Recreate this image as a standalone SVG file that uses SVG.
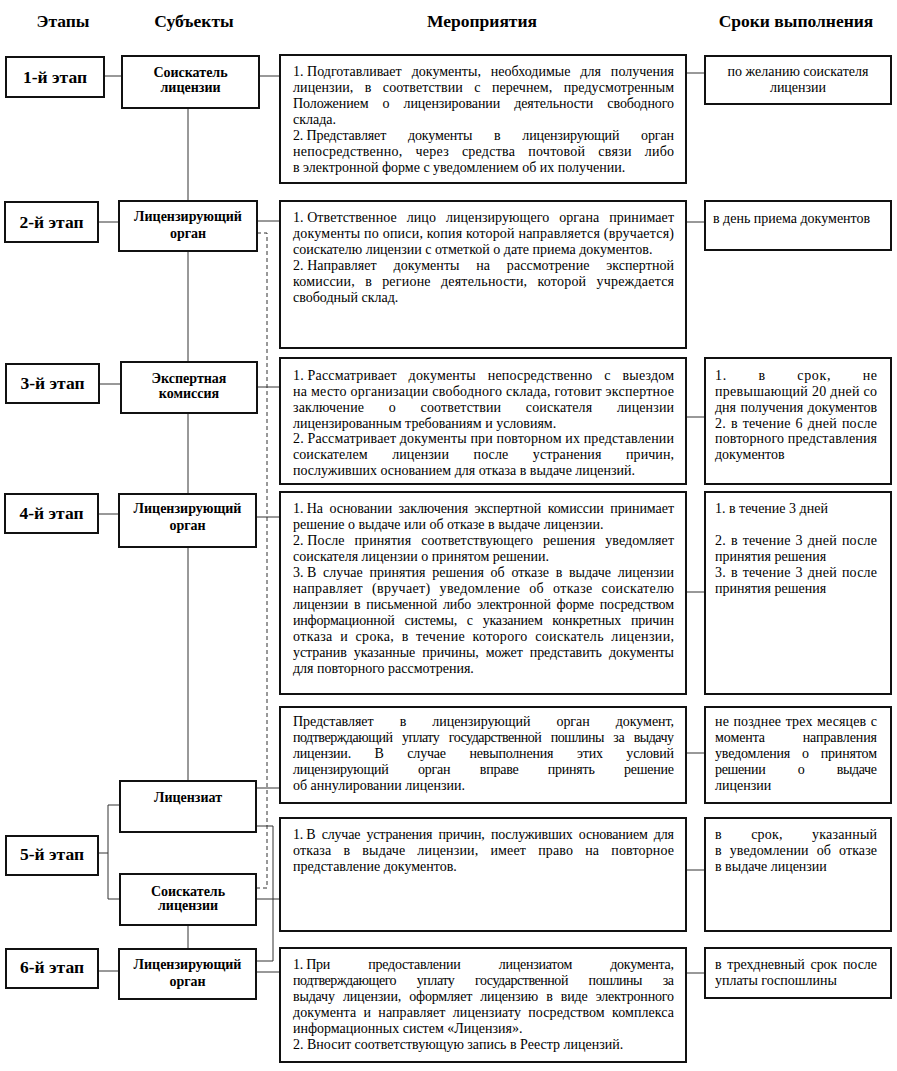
<svg xmlns="http://www.w3.org/2000/svg" width="897" height="1071" viewBox="0 0 897 1071">
<style>
.bg{fill:#fff}
.t{font-family:"Liberation Serif","Times New Roman",serif;font-size:14px;fill:#000}
.b{font-weight:bold;text-anchor:middle}
.h{font-family:"Liberation Serif","Times New Roman",serif;font-size:17.5px;font-weight:bold;fill:#000;text-anchor:middle}
.m{text-anchor:middle}
.n{word-spacing:0}
.box{fill:#fff;stroke:#111;stroke-width:2}
.c{fill:none;stroke:#333;stroke-width:1}
.d{stroke-dasharray:4 3}
</style>
<rect class="bg" x="0" y="0" width="897" height="1071"/>
<g id="headers">
<text class="h" x="63" y="27">Этапы</text>
<text class="h" x="194" y="27">Субъекты</text>
<text class="h" x="482" y="27">Мероприятия</text>
<text class="h" x="796" y="27">Сроки выполнения</text>
</g>
<g id="connectors">
<path class="c" d="M104,76H122M98,222H119M99,384H121M98,514H119M98,971H119"/>
<path class="c" d="M98,853H108M108,805V899M108,805H120M108,899H120"/>
<path class="c" d="M259,76H280M257,221H280M257,387H280M256,517H280M256,788H280M256,899H280M256,972H280"/>
<path class="c" d="M256,826H273V961H256"/>
<path class="c" d="M686,73H705M686,222H705M686,417H705M686,592H705M686,753H705M686,870H705M686,973H705"/>
<path class="c" d="M188,108V201M188,251V362M188,413V494M188,547V781M188,925V949"/>
<path class="c d" d="M257,233H267V888H256"/>
</g>
<g id="stage1"><rect class="box" x="6" y="57" width="98" height="40"/><text class="h" x="55" y="83">1-й этап</text></g>
<g id="stage2"><rect class="box" x="5" y="202" width="93" height="40"/><text class="h" x="51.5" y="228">2-й этап</text></g>
<g id="stage3"><rect class="box" x="6" y="364" width="93" height="39"/><text class="h" x="52.5" y="389">3-й этап</text></g>
<g id="stage4"><rect class="box" x="5" y="494" width="93" height="39"/><text class="h" x="51.5" y="519">4-й этап</text></g>
<g id="stage5"><rect class="box" x="6" y="836" width="92" height="39"/><text class="h" x="52" y="860">5-й этап</text></g>
<g id="stage6"><rect class="box" x="6" y="949" width="92" height="39"/><text class="h" x="52" y="973">6-й этап</text></g>

<g id="subj1"><rect class="box" x="122" y="56" width="137" height="52"/><text class="t b" x="190.5" y="77">Соискатель</text><text class="t b" x="190.5" y="92">лицензии</text></g>
<g id="subj2"><rect class="box" x="119" y="201" width="138" height="50"/><text class="t b" x="188" y="221">Лицензирующий</text><text class="t b" x="188" y="238">орган</text></g>
<g id="subj3"><rect class="box" x="121" y="362" width="136" height="51"/><text class="t b" x="189" y="383">Экспертная</text><text class="t b" x="189" y="398">комиссия</text></g>
<g id="subj4"><rect class="box" x="119" y="494" width="137" height="53"/><text class="t b" x="187.5" y="513">Лицензирующий</text><text class="t b" x="187.5" y="530">орган</text></g>
<g id="subj5a"><rect class="box" x="120" y="781" width="136" height="51"/><text class="t b" x="188" y="802">Лицензиат</text></g>
<g id="subj5b"><rect class="box" x="120" y="874" width="136" height="51"/><text class="t b" x="188" y="896">Соискатель</text><text class="t b" x="188" y="910">лицензии</text></g>
<g id="subj6"><rect class="box" x="119" y="949" width="137" height="50"/><text class="t b" x="187.5" y="969">Лицензирующий</text><text class="t b" x="187.5" y="986">орган</text></g>

<g id="act1"><rect class="box" x="280" y="55" width="406" height="128"/>
<text class="t" x="293" y="76" textLength="381" lengthAdjust="spacing" word-spacing="6.4"><tspan class="n">1. </tspan>Подготавливает документы, необходимые для получения</text>
<text class="t" x="293" y="92" textLength="381" lengthAdjust="spacing" word-spacing="7.8">лицензии, в соответствии с перечнем, предусмотренным</text>
<text class="t" x="293" y="108" textLength="381" lengthAdjust="spacing" word-spacing="10.7">Положением о лицензировании деятельности свободного</text>
<text class="t" x="293" y="124">склада.</text>
<text class="t" x="293" y="140" textLength="381" lengthAdjust="spacing" word-spacing="18.4"><tspan class="n">2. </tspan>Представляет документы в лицензирующий орган</text>
<text class="t" x="293" y="156" textLength="381" lengthAdjust="spacing" word-spacing="9.2">непосредственно, через средства почтовой связи либо</text>
<text class="t" x="293" y="172">в электронной форме с уведомлением об их получении.</text>
</g>
<g id="act2"><rect class="box" x="280" y="201" width="406" height="147"/>
<text class="t" x="293" y="222" textLength="381" lengthAdjust="spacing" word-spacing="6.4"><tspan class="n">1. </tspan>Ответственное лицо лицензирующего органа принимает</text>
<text class="t" x="293" y="238" textLength="381" lengthAdjust="spacing">документы по описи, копия которой направляется (вручается)</text>
<text class="t" x="293" y="254">соискателю лицензии с отметкой о дате приема документов.</text>
<text class="t" x="293" y="270" textLength="381" lengthAdjust="spacing" word-spacing="13.2"><tspan class="n">2. </tspan>Направляет документы на рассмотрение экспертной</text>
<text class="t" x="293" y="286" textLength="381" lengthAdjust="spacing" word-spacing="6.5">комиссии, в регионе деятельности, которой учреждается</text>
<text class="t" x="293" y="302">свободный склад.</text>
</g>
<g id="act3"><rect class="box" x="280" y="358" width="406" height="126"/>
<text class="t" x="293" y="380" textLength="381" lengthAdjust="spacing" word-spacing="8.1"><tspan class="n">1. </tspan>Рассматривает документы непосредственно с выездом</text>
<text class="t" x="293" y="396" textLength="381" lengthAdjust="spacing">на место организации свободного склада, готовит экспертное</text>
<text class="t" x="293" y="412" textLength="381" lengthAdjust="spacing" word-spacing="21">заключение о соответствии соискателя лицензии</text>
<text class="t" x="293" y="428">лицензированным требованиям и условиям.</text>
<text class="t" x="293" y="443" textLength="381" lengthAdjust="spacing">2. Рассматривает документы при повторном их представлении</text>
<text class="t" x="293" y="459" textLength="381" lengthAdjust="spacing" word-spacing="21">соискателем лицензии после устранения причин,</text>
<text class="t" x="293" y="475">послуживших основанием для отказа в выдаче лицензий.</text>
</g>
<g id="act4"><rect class="box" x="280" y="492" width="406" height="202"/>
<text class="t" x="293" y="513" textLength="381" lengthAdjust="spacing" word-spacing="3"><tspan class="n">1. </tspan>На основании заключения экспертной комиссии принимает</text>
<text class="t" x="293" y="529">решение о выдаче или об отказе в выдаче лицензии.</text>
<text class="t" x="293" y="545" textLength="381" lengthAdjust="spacing" word-spacing="6.4"><tspan class="n">2. </tspan>После принятия соответствующего решения уведомляет</text>
<text class="t" x="293" y="561">соискателя лицензии о принятом решении.</text>
<text class="t" x="293" y="577" textLength="381" lengthAdjust="spacing" word-spacing="3.2"><tspan class="n">3. </tspan>В случае принятия решения об отказе в выдаче лицензии</text>
<text class="t" x="293" y="593" textLength="381" lengthAdjust="spacing" word-spacing="5.1">направляет (вручает) уведомление об отказе соискателю</text>
<text class="t" x="293" y="609" textLength="381" lengthAdjust="spacing" word-spacing="2.5">лицензии в письменной либо электронной форме посредством</text>
<text class="t" x="293" y="625" textLength="381" lengthAdjust="spacing" word-spacing="6.5">информационной системы, с указанием конкретных причин</text>
<text class="t" x="293" y="641" textLength="381" lengthAdjust="spacing" word-spacing="3.6">отказа и срока, в течение которого соискатель лицензии,</text>
<text class="t" x="293" y="657" textLength="381" lengthAdjust="spacing" word-spacing="3.7">устранив указанные причины, может представить документы</text>
<text class="t" x="293" y="673">для повторного рассмотрения.</text>
</g>
<g id="act5"><rect class="box" x="280" y="707" width="406" height="96"/>
<text class="t" x="293" y="726" textLength="381" lengthAdjust="spacing" word-spacing="22.7">Представляет в лицензирующий орган документ,</text>
<text class="t" x="293" y="742" textLength="381" lengthAdjust="spacing" word-spacing="6.5">подтверждающий уплату государственной пошлины за выдачу</text>
<text class="t" x="293" y="758" textLength="381" lengthAdjust="spacing" word-spacing="20.3">лицензии. В случае невыполнения этих условий</text>
<text class="t" x="293" y="774" textLength="381" lengthAdjust="spacing" word-spacing="26.2">лицензирующий орган вправе принять решение</text>
<text class="t" x="293" y="790">об аннулировании лицензии.</text>
</g>
<g id="act6"><rect class="box" x="280" y="818" width="406" height="113"/>
<text class="t" x="293" y="839" textLength="381" lengthAdjust="spacing" word-spacing="3"><tspan class="n">1. </tspan>В случае устранения причин, послуживших основанием для</text>
<text class="t" x="293" y="855" textLength="381" lengthAdjust="spacing" word-spacing="8.5">отказа в выдаче лицензии, имеет право на повторное</text>
<text class="t" x="293" y="871">представление документов.</text>
</g>
<g id="act7"><rect class="box" x="280" y="948" width="406" height="114"/>
<text class="t" x="293" y="969" textLength="381" lengthAdjust="spacing" word-spacing="35"><tspan class="n">1. </tspan>При предоставлении лицензиатом документа,</text>
<text class="t" x="293" y="985" textLength="381" lengthAdjust="spacing" word-spacing="17.6">подтверждающего уплату государственной пошлины за</text>
<text class="t" x="293" y="1001" textLength="381" lengthAdjust="spacing" word-spacing="4.8">выдачу лицензии, оформляет лицензию в виде электронного</text>
<text class="t" x="293" y="1017" textLength="381" lengthAdjust="spacing" word-spacing="3.7">документа и направляет лицензиату посредством комплекса</text>
<text class="t" x="293" y="1033">информационных систем «Лицензия».</text>
<text class="t" x="293" y="1049">2. Вносит соответствующую запись в Реестр лицензий.</text>
</g>

<g id="term1"><rect class="box" x="705" y="56" width="186" height="48"/>
<text class="t m" x="798" y="76">по желанию соискателя</text>
<text class="t m" x="798" y="92">лицензии</text>
</g>
<g id="term2"><rect class="box" x="705" y="201" width="186" height="49"/>
<text class="t" x="713" y="223">в день приема документов</text>
</g>
<g id="term3"><rect class="box" x="705" y="358" width="186" height="126"/>
<text class="t" x="715" y="380" textLength="162" lengthAdjust="spacing" word-spacing="27.5">1. в срок, не</text>
<text class="t" x="715" y="396" textLength="162" lengthAdjust="spacing">превышающий 20 дней со</text>
<text class="t" x="715" y="412" textLength="162" lengthAdjust="spacing" word-spacing="1">дня получения документов</text>
<text class="t" x="715" y="428" textLength="162" lengthAdjust="spacing" word-spacing="1.3">2. в течение 6 дней после</text>
<text class="t" x="715" y="443" textLength="162" lengthAdjust="spacing">повторного представления</text>
<text class="t" x="715" y="459">документов</text>
</g>
<g id="term4"><rect class="box" x="705" y="492" width="186" height="202"/>
<text class="t" x="715" y="513">1. в течение 3 дней</text>
<text class="t" x="715" y="545" textLength="162" lengthAdjust="spacing" word-spacing="1.3">2. в течение 3 дней после</text>
<text class="t" x="715" y="561">принятия решения</text>
<text class="t" x="715" y="577" textLength="162" lengthAdjust="spacing" word-spacing="1.3">3. в течение 3 дней после</text>
<text class="t" x="715" y="593">принятия решения</text>
</g>
<g id="term5"><rect class="box" x="705" y="707" width="186" height="96"/>
<text class="t" x="715" y="726" textLength="162" lengthAdjust="spacing" word-spacing="0.8">не позднее трех месяцев с</text>
<text class="t" x="715" y="742" textLength="162" lengthAdjust="spacing" word-spacing="34.3">момента направления</text>
<text class="t" x="715" y="758" textLength="162" lengthAdjust="spacing" word-spacing="8.5">уведомления о принятом</text>
<text class="t" x="715" y="774" textLength="162" lengthAdjust="spacing" word-spacing="29.2">решении о выдаче</text>
<text class="t" x="715" y="790">лицензии</text>
</g>
<g id="term6"><rect class="box" x="705" y="818" width="186" height="113"/>
<text class="t" x="715" y="839" textLength="162" lengthAdjust="spacing" word-spacing="25.7">в срок, указанный</text>
<text class="t" x="715" y="855" textLength="162" lengthAdjust="spacing" word-spacing="4.5">в уведомлении об отказе</text>
<text class="t" x="715" y="871">в выдаче лицензии</text>
</g>
<g id="term7"><rect class="box" x="705" y="948" width="186" height="50"/>
<text class="t" x="715" y="969" textLength="162" lengthAdjust="spacing" word-spacing="2.2">в трехдневный срок после</text>
<text class="t" x="715" y="985">уплаты госпошлины</text>
</g>
</svg>
